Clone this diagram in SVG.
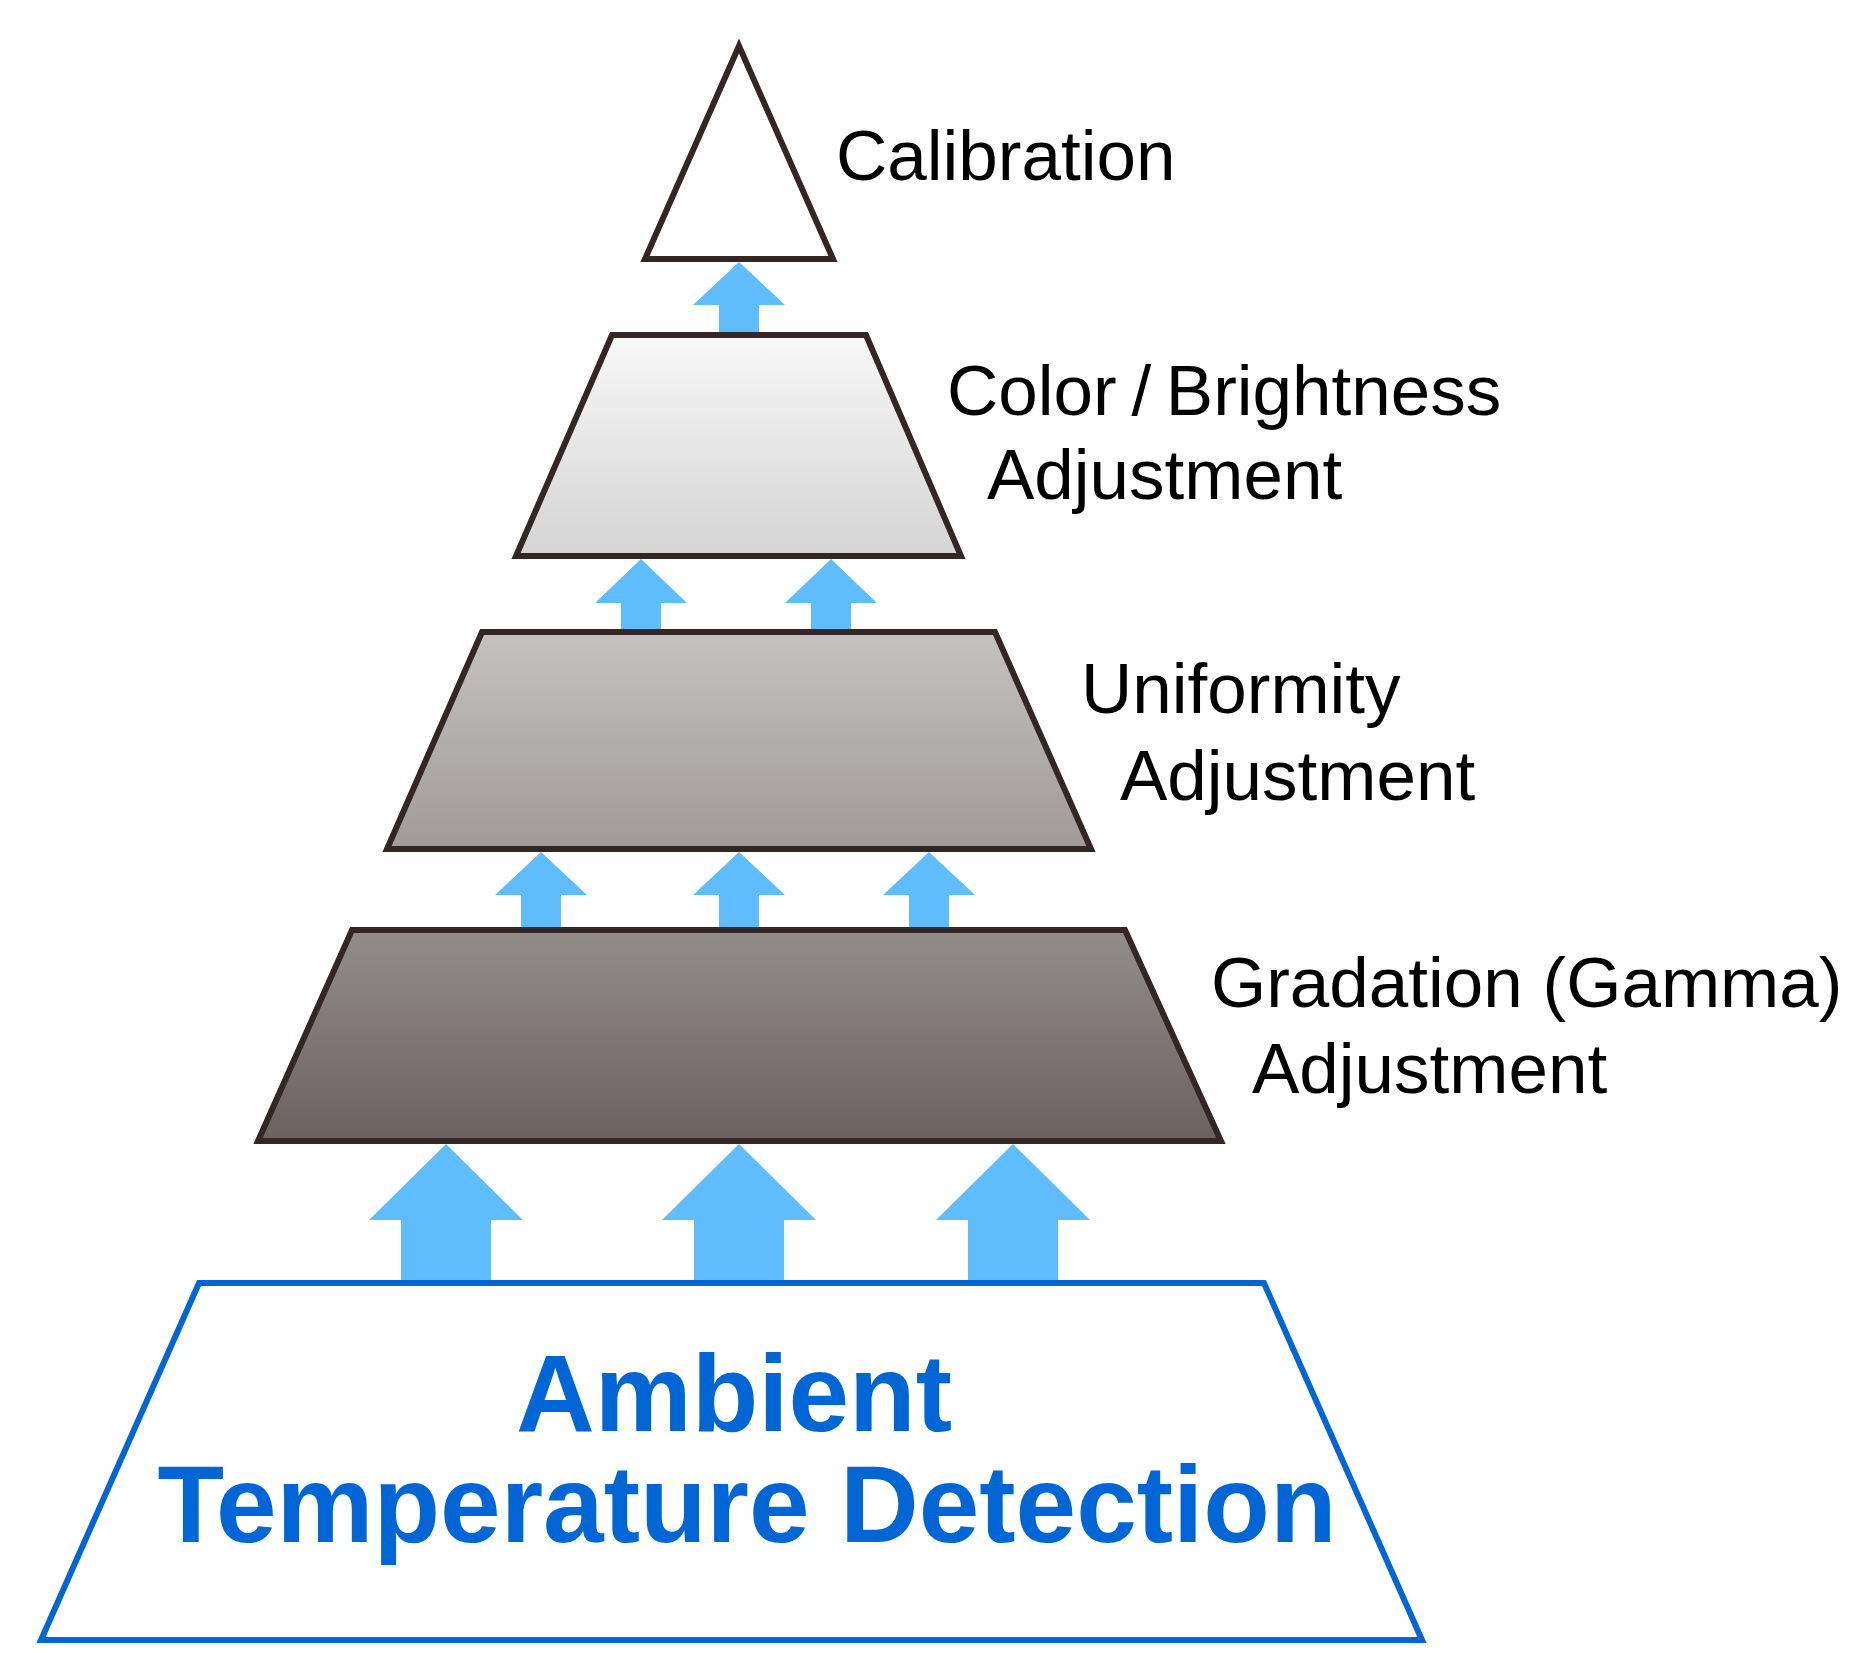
<svg xmlns="http://www.w3.org/2000/svg" width="1859" height="1653" viewBox="0 0 1859 1653">
  <style>
    .lvl { stroke: #332726; stroke-width: 6; stroke-linejoin: miter; }
    .arrow { fill: #5fbdfd; stroke: none; }
    .label { font-family: "Liberation Sans", Arial, Helvetica, sans-serif; font-size: 71px; fill: #000000; }
    .base-text { font-family: "Liberation Sans", Arial, Helvetica, sans-serif; font-size: 109px; font-weight: bold; fill: #0066d6; text-anchor: middle; }
  </style>
  <defs>
    <linearGradient id="g1" x1="0" y1="0" x2="0" y2="1">
      <stop offset="0" stop-color="#f8f8f8"/>
      <stop offset="1" stop-color="#d5d4d5"/>
    </linearGradient>
    <linearGradient id="g2" x1="0" y1="0" x2="0" y2="1">
      <stop offset="0" stop-color="#c4c2c0"/>
      <stop offset="1" stop-color="#a09a99"/>
    </linearGradient>
    <linearGradient id="g3" x1="0" y1="0" x2="0" y2="1">
      <stop offset="0" stop-color="#928d8b"/>
      <stop offset="1" stop-color="#6b6260"/>
    </linearGradient>
  </defs>
  <rect width="1859" height="1653" fill="#ffffff"/>

  <g id="connectors">
    <polygon class="arrow" points="739,262 785,305 759,305 759,334 719,334 719,305 693,305"/>
    <polygon class="arrow" points="641,559 687,603 661,603 661,631 621,631 621,603 595,603"/>
    <polygon class="arrow" points="831,559 877,603 851,603 851,631 811,631 811,603 785,603"/>
    <polygon class="arrow" points="541,852 587,895 561,895 561,929 521,929 521,895 495,895"/>
    <polygon class="arrow" points="739,852 785,895 759,895 759,929 719,929 719,895 693,895"/>
    <polygon class="arrow" points="929,852 975,895 949,895 949,929 909,929 909,895 883,895"/>
    <polygon class="arrow" points="446,1144 523,1220 491,1220 491,1282 401,1282 401,1220 369,1220"/>
    <polygon class="arrow" points="739,1144 816,1220 784,1220 784,1282 694,1282 694,1220 662,1220"/>
    <polygon class="arrow" points="1013,1144 1090,1220 1058,1220 1058,1282 968,1282 968,1220 936,1220"/>
  </g>

  <g id="calibration">
    <polygon class="lvl" fill="#ffffff" points="739,46 645,259 833,259"/>
    <text class="label" x="836" y="180">Calibration</text>
  </g>

  <g id="color-brightness">
    <polygon class="lvl" fill="url(#g1)" points="612,335 866,335 961,556 516,556"/>
    <text class="label" x="947" y="415" word-spacing="-5">Color / Brightness</text>
    <text class="label" x="987" y="499">Adjustment</text>
  </g>

  <g id="uniformity">
    <polygon class="lvl" fill="url(#g2)" points="482,632 995,632 1091,849 387,849"/>
    <text class="label" x="1081" y="713">Uniformity</text>
    <text class="label" x="1120" y="800">Adjustment</text>
  </g>

  <g id="gradation">
    <polygon class="lvl" fill="url(#g3)" points="352,930 1125,930 1221,1141 258,1141"/>
    <text class="label" x="1211" y="1007">Gradation (Gamma)</text>
    <text class="label" x="1252" y="1093">Adjustment</text>
  </g>

  <g id="ambient-temperature-detection">
    <polygon fill="#ffffff" stroke="#0066d6" stroke-width="6" points="199,1283 1264,1283 1422,1640 41,1640"/>
    <text class="base-text" x="734" y="1431">Ambient</text>
    <text class="base-text" x="747" y="1542" font-size="110">Temperature Detection</text>
  </g>
</svg>
